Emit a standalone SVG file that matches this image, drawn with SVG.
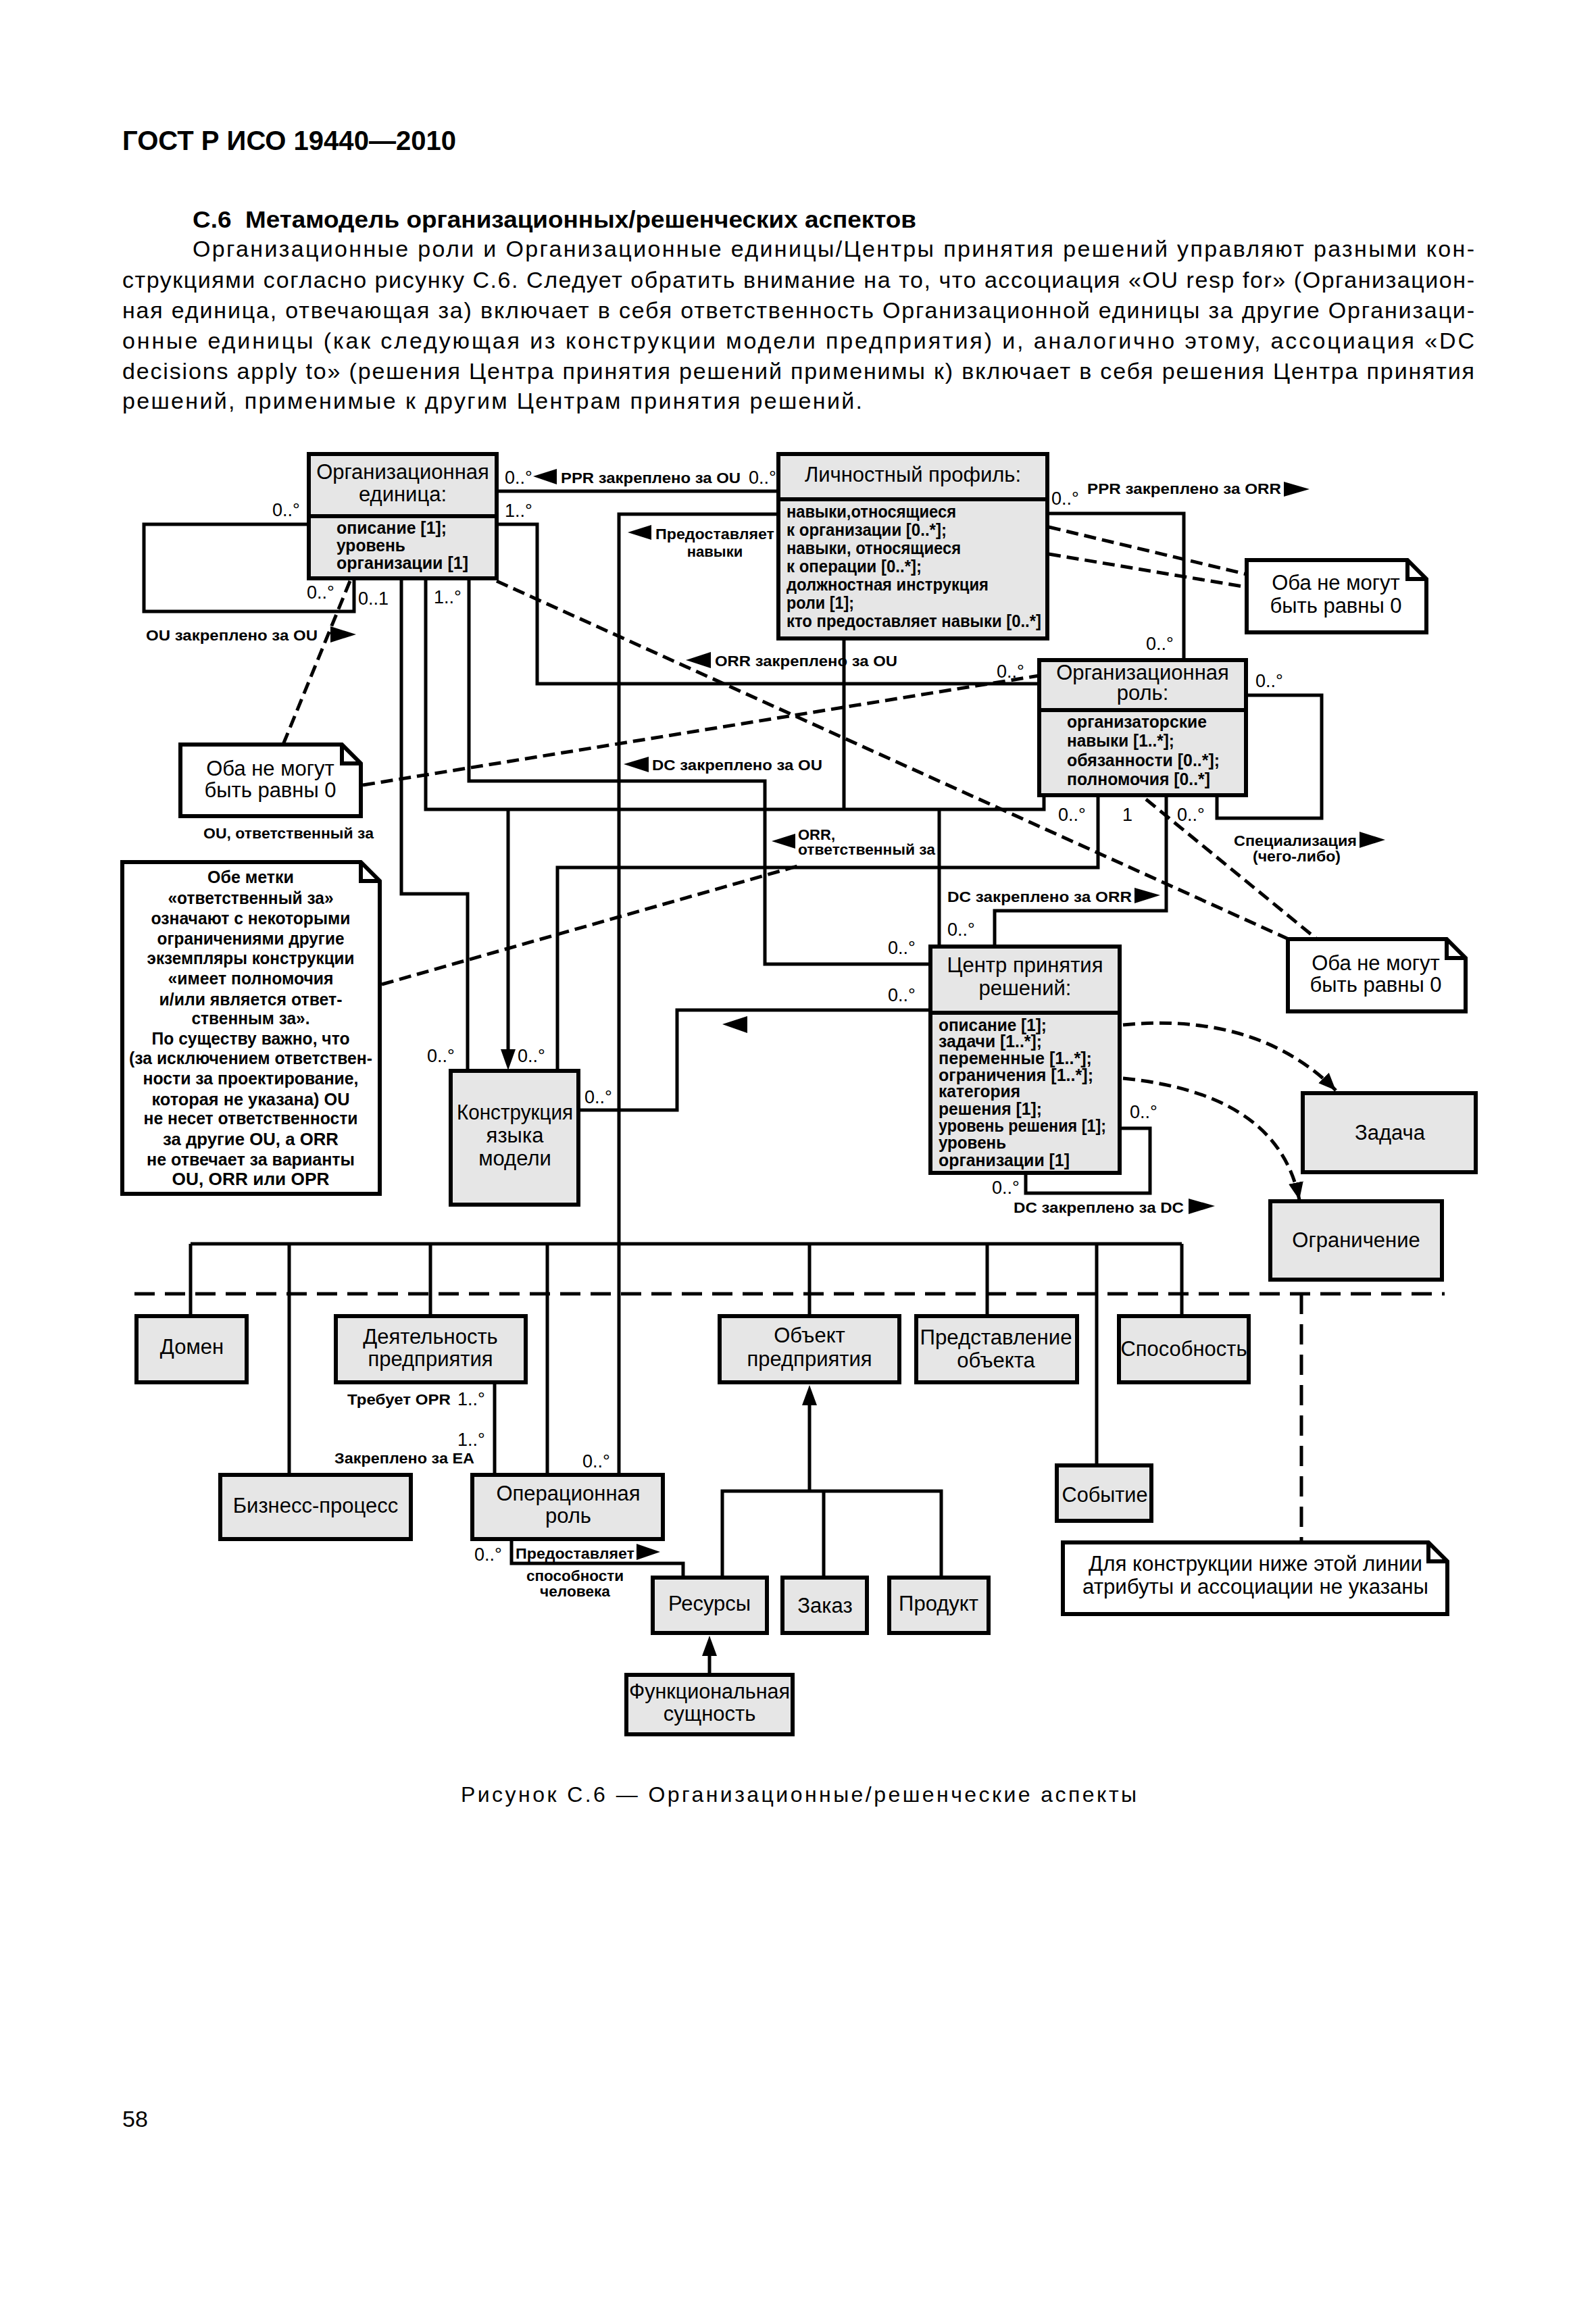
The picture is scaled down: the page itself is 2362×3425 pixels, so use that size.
<svg xmlns="http://www.w3.org/2000/svg" width="2362" height="3425" viewBox="0 0 2362 3425">
<defs>
<style>
text{font-family:"Liberation Sans",Arial,sans-serif;fill:#000}
.box{fill:#e6e6e6;stroke:#000;stroke-width:6}
.note{fill:#fff;stroke:#000;stroke-width:6;stroke-linejoin:miter}
.fold{fill:none;stroke:#000;stroke-width:6}
.ln{fill:none;stroke:#000;stroke-width:5}
.dash{fill:none;stroke:#000;stroke-width:5;stroke-dasharray:18 9}
.sep{fill:none;stroke:#000;stroke-width:5;stroke-dasharray:30 15}
.tri{fill:#000;stroke:none}
.t{font-size:31px;text-anchor:middle}
.a{font-size:25px;font-weight:bold}
.m{font-size:27px}
.l{font-size:22px;font-weight:bold}
.n{font-size:31px;text-anchor:middle}
.nb{font-size:25px;font-weight:bold;text-anchor:middle}
.body{font-size:34px}
</style>
<marker id="ah" viewBox="0 0 26 22" refX="26" refY="11" markerWidth="26" markerHeight="22" markerUnits="userSpaceOnUse" orient="auto">
<path d="M0,0 L26,11 L0,22 Z" style="fill:#000;stroke:none"/>
</marker>
</defs>
<rect x="0" y="0" width="2362" height="3425" fill="#fff"/>

<g id="page-text">
<text x="181" y="222" font-size="40" font-weight="bold" textLength="494" lengthAdjust="spacingAndGlyphs">ГОСТ Р ИСО 19440—2010</text>
<text x="285" y="337" font-size="35" font-weight="bold" textLength="1071" lengthAdjust="spacingAndGlyphs" xml:space="preserve">С.6  Метамодель организационных/решенческих аспектов</text>
<text class="body" x="285" y="380" textLength="1897" lengthAdjust="spacing">Организационные роли и Организационные единицы/Центры принятия решений управляют разными кон-</text>
<text class="body" x="181" y="426" textLength="2001" lengthAdjust="spacing">струкциями согласно рисунку С.6. Следует обратить внимание на то, что ассоциация «OU resp for» (Организацион-</text>
<text class="body" x="181" y="471" textLength="2001" lengthAdjust="spacing">ная единица, отвечающая за) включает в себя ответственность Организационной единицы за другие Организаци-</text>
<text class="body" x="181" y="516" textLength="2001" lengthAdjust="spacing">онные единицы (как следующая из конструкции модели предприятия) и, аналогично этому, ассоциация «DC</text>
<text class="body" x="181" y="561" textLength="2001" lengthAdjust="spacing">decisions apply to» (решения Центра принятия решений применимы к) включает в себя решения Центра принятия</text>
<text class="body" x="181" y="605" textLength="1095" lengthAdjust="spacing">решений, применимые к другим Центрам принятия решений.</text>
<text x="1182" y="2667" font-size="32" text-anchor="middle" textLength="1000" lengthAdjust="spacing">Рисунок С.6 — Организационные/решенческие аспекты</text>
<text x="181" y="3148" font-size="34">58</text>
</g>

<g id="connectors">
<path class="ln" d="M457,776 H213 V905 H524 V859"/>
<path class="ln" d="M738,727 H1152"/>
<path class="ln" d="M738,776 H795 V1012 H1538"/>
<path class="ln" d="M1152,761 H916 V2183"/>
<path class="ln" d="M594,859 V1323 H692 V1585"/>
<path class="ln" d="M630,859 V1198 H1545 V1180"/>
<path class="ln" d="M1249,947 V1198"/>
<path class="ln" d="M752,1198 V1556"/>
<polygon class="tri" points="741,1553 763,1553 752,1584"/>
<path class="ln" d="M694,859 V1156 H1132 V1427 H1377"/>
<path class="ln" d="M1390,1198 V1401"/>
<path class="ln" d="M1625,1180 V1284 H825 V1585"/>
<path class="ln" d="M1377,1495 H1002 V1643 H859"/>
<path class="ln" d="M1472,1401 V1348 H1726 V1180"/>
<path class="ln" d="M1550,760 H1752 V977"/>
<path class="ln" d="M1847,1029 H1956 V1211 H1801 V1180"/>
<path class="ln" d="M1660,1670 H1702 V1766 H1518 V1739"/>
<path class="ln" d="M282,1841 H1749 M282,1841 V1948 M428,1841 V2183 M637,1841 V1948 M810,1841 V2183 M1198,1841 V1948 M1461,1841 V1948 M1623,1841 V2169 M1749,1841 V1948"/>
<path class="ln" d="M732,2049 V2183"/>
<path class="ln" d="M757,2281 V2314 H1011 V2335"/>
<path class="ln" d="M1198,2076 V2207 M1069,2335 V2207 H1393 V2335 M1219,2207 V2335"/>
<polygon class="tri" points="1198,2050 1187,2080 1209,2080"/>
<path class="ln" d="M1050,2479 V2448"/>
<polygon class="tri" points="1050,2421 1039,2451 1061,2451"/>
<path class="dash" d="M518,860 L419,1102"/>
<path class="dash" d="M537,1162 L1538,1000"/>
<path class="dash" d="M735,860 L1907,1390"/>
<path class="dash" d="M1696,1183 L1949,1390"/>
<path class="dash" d="M1552,780 L1845,850"/>
<path class="dash" d="M1552,820 L1845,869"/>
<path class="dash" d="M565,1457 L1180,1282"/>
<path class="dash" d="M1662,1517 C1780,1505 1895,1530 1977,1614" marker-end="url(#ah)"/>
<path class="dash" d="M1662,1596 C1800,1610 1900,1660 1923,1776" marker-end="url(#ah)"/>
<path class="sep" d="M199,1915 H2138"/>
<path class="sep" d="M1926,1915 V2283"/>
</g>

<g id="labels">
<text class="m" x="403" y="764">0..°</text>
<text class="m" x="454" y="886">0..°</text>
<text class="m" x="530" y="895">0..1</text>
<text class="m" x="642" y="893">1..°</text>
<text class="l" x="216" y="948" textLength="254" lengthAdjust="spacingAndGlyphs">OU закреплено за OU</text>
<polygon class="tri" points="489,927 527,939 489,951"/>
<text class="m" x="747" y="716">0..°</text>
<polygon class="tri" points="824,694 789,705 824,717"/>
<text class="l" x="830" y="715" textLength="266" lengthAdjust="spacingAndGlyphs">PPR закреплено за OU</text>
<text class="m" x="1108" y="716">0..°</text>
<text class="m" x="747" y="765">1..°</text>
<polygon class="tri" points="964,777 929,788 964,799"/>
<text class="l" x="970" y="798" textLength="176" lengthAdjust="spacingAndGlyphs">Предоставляет</text>
<text class="l" x="1058" y="824" text-anchor="middle">навыки</text>
<polygon class="tri" points="1052,965 1015,977 1052,989"/>
<text class="l" x="1058" y="986" textLength="270" lengthAdjust="spacingAndGlyphs">ORR закреплено за OU</text>
<polygon class="tri" points="960,1120 923,1131 960,1143"/>
<text class="l" x="965" y="1140" textLength="252" lengthAdjust="spacingAndGlyphs">DC закреплено за OU</text>
<text class="l" x="301" y="1241" textLength="252" lengthAdjust="spacingAndGlyphs">OU, ответственный за</text>
<text class="m" x="1556" y="747">0..°</text>
<text class="l" x="1609" y="731" textLength="287" lengthAdjust="spacingAndGlyphs">PPR закреплено за ORR</text>
<polygon class="tri" points="1900,713 1938,724 1900,735"/>
<text class="m" x="1696" y="962">0..°</text>
<text class="m" x="1475" y="1003">0..°</text>
<text class="m" x="1858" y="1017">0..°</text>
<text class="m" x="1566" y="1215">0..°</text>
<text class="m" x="1661" y="1215">1</text>
<text class="m" x="1742" y="1215">0..°</text>
<text class="l" x="1826" y="1252" textLength="182" lengthAdjust="spacingAndGlyphs">Специализация</text>
<polygon class="tri" points="2012,1231 2050,1243 2012,1255"/>
<text class="l" x="1854" y="1275" textLength="130" lengthAdjust="spacingAndGlyphs">(чего-либо)</text>
<polygon class="tri" points="1177,1234 1142,1245 1177,1256"/>
<text class="l" x="1181" y="1243">ORR,</text>
<text class="l" x="1181" y="1265" textLength="203" lengthAdjust="spacingAndGlyphs">ответственный за</text>
<text class="l" x="1402" y="1335" textLength="273" lengthAdjust="spacingAndGlyphs">DC закреплено за ORR</text>
<polygon class="tri" points="1679,1314 1717,1325 1679,1337"/>
<text class="m" x="1402" y="1385">0..°</text>
<text class="m" x="1314" y="1412">0..°</text>
<text class="m" x="1314" y="1482">0..°</text>
<polygon class="tri" points="1106,1504 1069,1516 1106,1529"/>
<text class="m" x="632" y="1572">0..°</text>
<text class="m" x="766" y="1572">0..°</text>
<text class="m" x="865" y="1633">0..°</text>
<text class="m" x="1672" y="1655">0..°</text>
<text class="m" x="1468" y="1767">0..°</text>
<text class="l" x="1500" y="1795" textLength="252" lengthAdjust="spacingAndGlyphs">DC закреплено за DC</text>
<polygon class="tri" points="1759,1774 1798,1785 1759,1797"/>
<text class="l" x="514" y="2079" textLength="153" lengthAdjust="spacingAndGlyphs">Требует OPR</text>
<text class="m" x="677" y="2080">1..°</text>
<text class="m" x="677" y="2140">1..°</text>
<text class="l" x="495" y="2166" textLength="207" lengthAdjust="spacingAndGlyphs">Закреплено за EA</text>
<text class="m" x="862" y="2172">0..°</text>
<text class="m" x="702" y="2310">0..°</text>
<text class="l" x="763" y="2307" textLength="176" lengthAdjust="spacingAndGlyphs">Предоставляет</text>
<polygon class="tri" points="942,2285 977,2297 942,2309"/>
<text class="l" x="851" y="2340" text-anchor="middle" textLength="144" lengthAdjust="spacingAndGlyphs">способности</text>
<text class="l" x="851" y="2363" text-anchor="middle" textLength="104" lengthAdjust="spacingAndGlyphs">человека</text>
</g>

<g id="node-ou">
<rect class="box" x="457" y="672" width="278" height="184"/>
<path class="ln" d="M457,764 H735" style="stroke-width:6"/>
<text class="t" x="596" y="709">Организационная</text>
<text class="t" x="596" y="742">единица:</text>
<text class="a" x="498" y="790" textLength="163" lengthAdjust="spacingAndGlyphs">описание [1];</text>
<text class="a" x="498" y="816" textLength="102" lengthAdjust="spacingAndGlyphs">уровень</text>
<text class="a" x="498" y="842" textLength="195" lengthAdjust="spacingAndGlyphs">организации [1]</text>
</g>

<g id="node-lp">
<rect class="box" x="1152" y="672" width="398" height="273"/>
<path class="ln" d="M1152,739 H1550" style="stroke-width:6"/>
<text class="t" x="1351" y="713">Личностный профиль:</text>
<text class="a" x="1164" y="766" textLength="251" lengthAdjust="spacingAndGlyphs">навыки,относящиеся</text>
<text class="a" x="1164" y="793" textLength="237" lengthAdjust="spacingAndGlyphs">к организации [0..*];</text>
<text class="a" x="1164" y="820" textLength="258" lengthAdjust="spacingAndGlyphs">навыки, относящиеся</text>
<text class="a" x="1164" y="847" textLength="200" lengthAdjust="spacingAndGlyphs">к операции [0..*];</text>
<text class="a" x="1164" y="874" textLength="299" lengthAdjust="spacingAndGlyphs">должностная инструкция</text>
<text class="a" x="1164" y="901" textLength="100" lengthAdjust="spacingAndGlyphs">роли [1];</text>
<text class="a" x="1164" y="928" textLength="377" lengthAdjust="spacingAndGlyphs">кто предоставляет навыки [0..*]</text>
</g>

<g id="node-orr">
<rect class="box" x="1538" y="977" width="306" height="200"/>
<path class="ln" d="M1538,1051 H1844" style="stroke-width:6"/>
<text class="t" x="1691" y="1006">Организационная</text>
<text class="t" x="1691" y="1036">роль:</text>
<text class="a" x="1579" y="1077" textLength="207" lengthAdjust="spacingAndGlyphs">организаторские</text>
<text class="a" x="1579" y="1105" textLength="159" lengthAdjust="spacingAndGlyphs">навыки [1..*];</text>
<text class="a" x="1579" y="1134" textLength="226" lengthAdjust="spacingAndGlyphs">обязанности [0..*];</text>
<text class="a" x="1579" y="1162" textLength="212" lengthAdjust="spacingAndGlyphs">полномочия [0..*]</text>
</g>

<g id="node-dc">
<rect class="box" x="1377" y="1401" width="280" height="335"/>
<path class="ln" d="M1377,1499 H1657" style="stroke-width:6"/>
<text class="t" x="1517" y="1439">Центр принятия</text>
<text class="t" x="1517" y="1473">решений:</text>
<text class="a" x="1389" y="1526" font-size="24" textLength="160" lengthAdjust="spacingAndGlyphs">описание [1];</text>
<text class="a" x="1389" y="1550" font-size="24" textLength="153" lengthAdjust="spacingAndGlyphs">задачи [1..*];</text>
<text class="a" x="1389" y="1575" font-size="24" textLength="227" lengthAdjust="spacingAndGlyphs">переменные [1..*];</text>
<text class="a" x="1389" y="1600" font-size="24" textLength="229" lengthAdjust="spacingAndGlyphs">ограничения [1..*];</text>
<text class="a" x="1389" y="1624" font-size="24" textLength="121" lengthAdjust="spacingAndGlyphs">категория</text>
<text class="a" x="1389" y="1650" font-size="24" textLength="153" lengthAdjust="spacingAndGlyphs">решения [1];</text>
<text class="a" x="1389" y="1675" font-size="24" textLength="248" lengthAdjust="spacingAndGlyphs">уровень решения [1];</text>
<text class="a" x="1389" y="1700" font-size="24" textLength="100" lengthAdjust="spacingAndGlyphs">уровень</text>
<text class="a" x="1389" y="1726" font-size="24" textLength="194" lengthAdjust="spacingAndGlyphs">организации [1]</text>
</g>

<g id="node-konstr">
<rect class="box" x="667" y="1585" width="189" height="198"/>
<text class="t" x="762" y="1657" textLength="172" lengthAdjust="spacingAndGlyphs">Конструкция</text>
<text class="t" x="762" y="1691">языка</text>
<text class="t" x="762" y="1725">модели</text>
</g>

<g id="node-zadacha">
<rect class="box" x="1928" y="1618" width="256" height="117"/>
<text class="t" x="2057" y="1687">Задача</text>
</g>
<g id="node-ogranichenie">
<rect class="box" x="1880" y="1778" width="254" height="116"/>
<text class="t" x="2007" y="1846">Ограничение</text>
</g>

<g id="note-tr">
<path class="note" d="M1845,829 H2083 L2111,857 V936 H1845 Z"/>
<path class="fold" d="M2083,829 V857 H2111"/>
<text class="n" x="1977" y="873">Оба не могут</text>
<text class="n" x="1977" y="907">быть равны 0</text>
</g>
<g id="note-left">
<path class="note" d="M267,1102 H506 L534,1130 V1208 H267 Z"/>
<path class="fold" d="M506,1102 V1130 H534"/>
<text class="n" x="400" y="1148">Оба не могут</text>
<text class="n" x="400" y="1180">быть равны 0</text>
</g>
<g id="note-br">
<path class="note" d="M1906,1390 H2141 L2169,1418 V1497 H1906 Z"/>
<path class="fold" d="M2141,1390 V1418 H2169"/>
<text class="n" x="2036" y="1436">Оба не могут</text>
<text class="n" x="2036" y="1468">быть равны 0</text>
</g>
<g id="note-labels">
<path class="note" d="M181,1276 H534 L562,1304 V1767 H181 Z"/>
<path class="fold" d="M534,1276 V1304 H562"/>
<text class="nb" x="371" y="1307" textLength="128" lengthAdjust="spacingAndGlyphs">Обе метки</text>
<text class="nb" x="371" y="1338" textLength="245" lengthAdjust="spacingAndGlyphs">«ответственный за»</text>
<text class="nb" x="371" y="1368" textLength="295" lengthAdjust="spacingAndGlyphs">означают с некоторыми</text>
<text class="nb" x="371" y="1398" textLength="277" lengthAdjust="spacingAndGlyphs">ограничениями другие</text>
<text class="nb" x="371" y="1427" textLength="307" lengthAdjust="spacingAndGlyphs">экземпляры конструкции</text>
<text class="nb" x="371" y="1457" textLength="245" lengthAdjust="spacingAndGlyphs">«имеет полномочия</text>
<text class="nb" x="371" y="1488" textLength="271" lengthAdjust="spacingAndGlyphs">и/или является ответ-</text>
<text class="nb" x="371" y="1516" textLength="175" lengthAdjust="spacingAndGlyphs">ственным за».</text>
<text class="nb" x="371" y="1546" textLength="293" lengthAdjust="spacingAndGlyphs">По существу важно, что</text>
<text class="nb" x="371" y="1575" textLength="360" lengthAdjust="spacingAndGlyphs">(за исключением ответствен-</text>
<text class="nb" x="371" y="1605" textLength="319" lengthAdjust="spacingAndGlyphs">ности за проектирование,</text>
<text class="nb" x="371" y="1636" textLength="293" lengthAdjust="spacingAndGlyphs">которая не указана) OU</text>
<text class="nb" x="371" y="1664" textLength="317" lengthAdjust="spacingAndGlyphs">не несет ответственности</text>
<text class="nb" x="371" y="1695" textLength="260" lengthAdjust="spacingAndGlyphs">за другие OU, а ORR</text>
<text class="nb" x="371" y="1725" textLength="308" lengthAdjust="spacingAndGlyphs">не отвечает за варианты</text>
<text class="nb" x="371" y="1754" textLength="233" lengthAdjust="spacingAndGlyphs">OU, ORR или OPR</text>
</g>

<g id="node-domen"><rect class="box" x="202" y="1948" width="163" height="98"/><text class="t" x="284" y="2004">Домен</text></g>
<g id="node-deyat"><rect class="box" x="497" y="1948" width="281" height="98"/><text class="t" x="637" y="1989">Деятельность</text><text class="t" x="637" y="2022">предприятия</text></g>
<g id="node-obekt"><rect class="box" x="1065" y="1948" width="266" height="98"/><text class="t" x="1198" y="1987">Объект</text><text class="t" x="1198" y="2022">предприятия</text></g>
<g id="node-predst"><rect class="box" x="1356" y="1948" width="238" height="98"/><text class="t" x="1474" y="1990" textLength="225" lengthAdjust="spacingAndGlyphs">Представление</text><text class="t" x="1474" y="2024">объекта</text></g>
<g id="node-sposob"><rect class="box" x="1656" y="1948" width="192" height="98"/><text class="t" x="1752" y="2007" textLength="187" lengthAdjust="spacingAndGlyphs">Способность</text></g>
<g id="node-biznes"><rect class="box" x="326" y="2183" width="282" height="95"/><text class="t" x="467" y="2239">Бизнесс-процесс</text></g>
<g id="node-oprole"><rect class="box" x="699" y="2183" width="282" height="95"/><text class="t" x="841" y="2221">Операционная</text><text class="t" x="841" y="2254">роль</text></g>
<g id="node-sobytie"><rect class="box" x="1564" y="2169" width="140" height="82"/><text class="t" x="1635" y="2223" textLength="127" lengthAdjust="spacingAndGlyphs">Событие</text></g>
<g id="node-resursy"><rect class="box" x="966" y="2335" width="169" height="82"/><text class="t" x="1050" y="2384">Ресурсы</text></g>
<g id="node-zakaz"><rect class="box" x="1158" y="2335" width="125" height="82"/><text class="t" x="1221" y="2387">Заказ</text></g>
<g id="node-produkt"><rect class="box" x="1316" y="2335" width="147" height="82"/><text class="t" x="1389" y="2384">Продукт</text></g>
<g id="node-funk"><rect class="box" x="927" y="2479" width="246" height="88"/><text class="t" x="1050" y="2514" textLength="238" lengthAdjust="spacingAndGlyphs">Функциональная</text><text class="t" x="1050" y="2547">сущность</text></g>
<g id="note-bottom">
<path class="note" d="M1573,2283 H2114 L2142,2311 V2389 H1573 Z"/>
<path class="fold" d="M2114,2283 V2311 H2142"/>
<text class="n" x="1858" y="2325" textLength="494" lengthAdjust="spacingAndGlyphs">Для конструкции ниже этой линии</text>
<text class="n" x="1858" y="2359" textLength="512" lengthAdjust="spacingAndGlyphs">атрибуты и ассоциации не указаны</text>
</g>
</svg>
